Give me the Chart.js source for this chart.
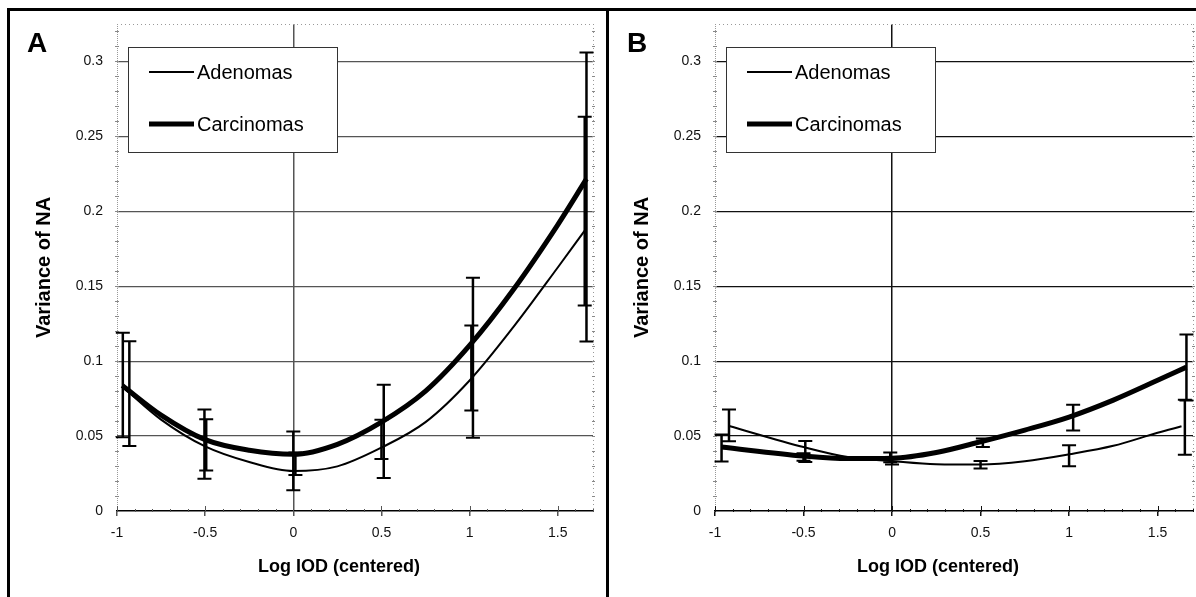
<!DOCTYPE html>
<html>
<head>
<meta charset="utf-8">
<script src="https://cdn.jsdelivr.net/npm/chart.js@4.4.1/dist/chart.umd.min.js"></script>
<style>
    body { margin: 0; background: #fff; width: 1196px; height: 597px; overflow: hidden; position: relative; }
    .panel { position: absolute; top: 0; height: 597px; }
    #wrapA { left: 0; width: 600px; }
    #wrapB { left: 600px; width: 596px; }
    .rule { position: absolute; background: #000; }
</style>
</head>
<body>
<div class="panel" id="wrapA"><canvas id="chartA" width="600" height="597"></canvas></div>
<div class="panel" id="wrapB"><canvas id="chartB" width="596" height="597"></canvas></div>
<div class="rule" style="left:7px;top:8px;width:1189px;height:3px"></div>
<div class="rule" style="left:7px;top:8px;width:3px;height:589px"></div>
<div class="rule" style="left:606px;top:8px;width:3px;height:589px"></div>

<script>
// axis ticks
const xTicks = [-1, -0.5, 0, 0.5, 1, 1.5];
const yTicks = [0, 0.05, 0.1, 0.15, 0.2, 0.25, 0.3];
const seriesNames = ['Adenomas', 'Carcinomas'];
const xTitle = 'Log IOD (centered)';
const yTitle = 'Variance of NA';

// Panel A - fitted curves
const aAdenX = [-0.96, -0.75, -0.5, -0.25, 0, 0.25, 0.5, 0.75, 1, 1.25, 1.5, 1.653];
const aAdenY = [0.082, 0.061, 0.0431, 0.0327, 0.0267, 0.0298, 0.0423, 0.0593, 0.0871, 0.123, 0.1625, 0.1871];
const aCarcX = [-0.97, -0.75, -0.5, -0.25, 0, 0.25, 0.5, 0.75, 1, 1.25, 1.5, 1.663];
const aCarcY = [0.0838, 0.064, 0.0476, 0.0405, 0.0378, 0.0445, 0.0593, 0.080, 0.1105, 0.148, 0.191, 0.2216];

// Panel A - error bars (low / high)
const aBar1X = [-0.967, -0.504, 0.0, 0.513, 1.019, 1.663];
const aBar1Lo = [0.0493, 0.0216, 0.0138, 0.022, 0.0489, 0.1131];
const aBar1Hi = [0.1189, 0.0678, 0.0531, 0.0843, 0.1556, 0.306];
const aBar2X = [-0.93, -0.494, 0.012, 0.5, 1.01, 1.653];
const aBar2Lo = [0.0433, 0.0271, 0.024, 0.0347, 0.0671, 0.1371];
const aBar2Hi = [0.1133, 0.0613, 0.039, 0.0609, 0.1238, 0.2631];

// Panel B - fitted curves
const bAdenX = [-0.92, -0.5, -0.25, 0, 0.25, 0.5, 0.75, 1.0, 1.25, 1.5, 1.635];
const bAdenY = [0.0567, 0.0427, 0.036, 0.0333, 0.0312, 0.031, 0.0332, 0.0378, 0.0435, 0.0522, 0.0565];
const bCarcX = [-0.965, -0.5, -0.25, 0, 0.25, 0.5, 0.75, 1.0, 1.25, 1.5, 1.663];
const bCarcY = [0.0427, 0.0367, 0.035, 0.0352, 0.039, 0.0462, 0.054, 0.0627, 0.074, 0.0872, 0.096];

// Panel B - error bars
const bBar1X = [-0.921, -0.49, 0.0, 0.5, 1.0, 1.654];
const bBar1Lo = [0.0465, 0.0327, 0.031, 0.0283, 0.0298, 0.0376];
const bBar1Hi = [0.0678, 0.0467, 0.036, 0.0333, 0.0438, 0.0743];
const bBar2X = [-0.963, -0.5, -0.01, 0.513, 1.023, 1.663];
const bBar2Lo = [0.0331, 0.0335, 0.0326, 0.0427, 0.0538, 0.0738];
const bBar2Hi = [0.0511, 0.0385, 0.039, 0.0483, 0.0709, 0.1178];

const FONT = 'Arial, "Liberation Sans", Helvetica, sans-serif';
Chart.defaults.font.family = FONT;

function toPoints(xs, ys) {
    return xs.map((x, i) => ({ x: x, y: ys[i] }));
}

// draws frame, minor ticks, error bars, legend, x title and panel letter
function makeDecor(letter, bars, gridCol) {
    return {
        id: 'decor' + letter,
        beforeDatasetsDraw(chart) {
            const ctx = chart.ctx;
            const ca = chart.chartArea;
            const xs = chart.scales.x, ys = chart.scales.y;
            ctx.save();
            // dotted plot frame (top, right, left axis)
            ctx.strokeStyle = '#999';
            ctx.lineWidth = 1;
            ctx.setLineDash([1, 3]);
            ctx.beginPath();
            ctx.moveTo(ca.left, ca.top + 0.5);
            ctx.lineTo(ca.right, ca.top + 0.5);
            ctx.moveTo(ca.right + 0.5, ca.top);
            ctx.lineTo(ca.right + 0.5, ca.bottom);
            ctx.stroke();
            ctx.setLineDash([1, 1]);
            ctx.beginPath();
            ctx.moveTo(ca.left + 0.5, ca.top);
            ctx.lineTo(ca.left + 0.5, ca.bottom);
            ctx.stroke();
            ctx.setLineDash([]);
            // minor ticks on y axis
            ctx.strokeStyle = '#888';
            ctx.beginPath();
            for (let k = 1; k <= 32; k++) {
                const py = Math.round(ys.getPixelForValue(k / 100)) + 0.5;
                ctx.moveTo(ca.left - 2, py);
                ctx.lineTo(ca.left + 2, py);
                ctx.moveTo(ca.right - 1, py);
                ctx.lineTo(ca.right + 2, py);
            }
            ctx.stroke();
            // minor + major ticks on x axis
            ctx.strokeStyle = gridCol;
            ctx.beginPath();
            for (let k = -10; k <= 17; k++) {
                const px = Math.round(xs.getPixelForValue(k / 10)) + 0.5;
                ctx.moveTo(px, ca.bottom - 2);
                ctx.lineTo(px, ca.bottom + 1);
            }
            xTicks.forEach(v => {
                const px = Math.round(xs.getPixelForValue(v)) + 0.5;
                ctx.moveTo(px, ca.bottom - 5);
                ctx.lineTo(px, ca.bottom);
            });
            ctx.stroke();
            ctx.restore();
        },
        afterDatasetsDraw(chart) {
            const ctx = chart.ctx;
            const ca = chart.chartArea;
            const xs = chart.scales.x, ys = chart.scales.y;
            ctx.save();
            // error bars
            ctx.strokeStyle = '#000';
            bars.forEach(set => {
                set.x.forEach((xv, i) => {
                    const px = xs.getPixelForValue(xv);
                    const pLo = ys.getPixelForValue(set.lo[i]);
                    const pHi = ys.getPixelForValue(set.hi[i]);
                    ctx.lineWidth = 2.5;
                    ctx.beginPath();
                    ctx.moveTo(px, pLo);
                    ctx.lineTo(px, pHi);
                    ctx.stroke();
                    ctx.lineWidth = 2;
                    ctx.beginPath();
                    ctx.moveTo(px - 7, pLo);
                    ctx.lineTo(px + 7, pLo);
                    ctx.moveTo(px - 7, pHi);
                    ctx.lineTo(px + 7, pHi);
                    ctx.stroke();
                });
            });

            // legend box
            const bx = ca.left + 11, by = ca.top + 23, bw = 209, bh = 105;
            ctx.fillStyle = '#fff';
            ctx.fillRect(bx, by, bw, bh);
            ctx.strokeStyle = '#333';
            ctx.lineWidth = 1;
            ctx.strokeRect(bx + 0.5, by + 0.5, bw, bh);
            ctx.font = '20px ' + FONT;
            ctx.textBaseline = 'middle';
            ctx.textAlign = 'left';
            ctx.fillStyle = '#000';
            chart.data.datasets.forEach((ds, i) => {
                const ly = by + 25 + i * 52;
                ctx.strokeStyle = '#000';
                ctx.lineWidth = ds.borderWidth;
                ctx.beginPath();
                ctx.moveTo(bx + 21, ly);
                ctx.lineTo(bx + 66, ly);
                ctx.stroke();
                ctx.fillText(ds.label, bx + 69, ly + 1);
            });

            // x axis title (sits a little left of the plot centre)
            ctx.font = 'bold 18px ' + FONT;
            ctx.textAlign = 'center';
            ctx.textBaseline = 'middle';
            ctx.fillText(xTitle, (ca.left + ca.right) / 2 - 16, 567);

            // panel letter
            ctx.font = 'bold 28px ' + FONT;
            ctx.textAlign = 'left';
            ctx.textBaseline = 'top';
            ctx.fillText(letter, 27, 30);
            ctx.restore();
        }
    };
}

function makeChart(canvasId, letter, curves, bars, yAxisW, padRight, yTitlePad, gridCol) {
    const ctx = document.getElementById(canvasId).getContext('2d');
    return new Chart(ctx, {
        type: 'scatter',
        data: {
            datasets: curves.map((c, i) => ({
                label: seriesNames[i],
                data: toPoints(c.x, c.y),
                showLine: true,
                borderColor: '#000',
                borderWidth: i === 0 ? 2 : 5,
                pointRadius: 0,
                cubicInterpolationMode: 'monotone',
                fill: false
            }))
        },
        options: {
            responsive: false,
            animation: false,
            layout: { padding: { left: 0, right: padRight, top: 24, bottom: 0 } },
            plugins: {
                legend: { display: false },
                tooltip: { enabled: false }
            },
            scales: {
                x: {
                    type: 'linear',
                    min: -1,
                    max: 1.7,
                    afterBuildTicks: s => { s.ticks = xTicks.map(v => ({ value: v })); },
                    afterFit: s => { s.height = 86; },
                    grid: {
                        color: c => (c.tick && c.tick.value === 0) ? gridCol : 'rgba(0,0,0,0)',
                        lineWidth: 1.5,
                        drawTicks: true,
                        tickLength: 5,
                        tickColor: gridCol
                    },
                    border: { display: true, color: '#000', width: 1.5 },
                    ticks: {
                        autoSkip: false,
                        maxRotation: 0,
                        padding: 9,
                        color: '#111',
                        font: { size: 14 },
                        callback: v => String(v)
                    },
                    title: { display: false }
                },
                y: {
                    min: 0,
                    max: 0.325,
                    afterBuildTicks: s => { s.ticks = yTicks.map(v => ({ value: v })); },
                    afterFit: s => { s.width = yAxisW; },
                    grid: {
                        color: c => (c.tick && c.tick.value === 0) ? 'rgba(0,0,0,0)' : gridCol,
                        lineWidth: 1.2,
                        drawTicks: false
                    },
                    border: { display: false },
                    ticks: {
                        autoSkip: false,
                        padding: 14,
                        color: '#111',
                        font: { size: 14 },
                        callback: v => String(v)
                    },
                    title: {
                        display: true,
                        text: yTitle,
                        color: '#000',
                        font: { size: 20, weight: 'bold' },
                        padding: { top: yTitlePad, bottom: 0 }
                    }
                }
            }
        },
        plugins: [makeDecor(letter, bars, gridCol)]
    });
}

makeChart('chartA', 'A',
    [{ x: aAdenX, y: aAdenY }, { x: aCarcX, y: aCarcY }],
    [{ x: aBar1X, lo: aBar1Lo, hi: aBar1Hi }, { x: aBar2X, lo: aBar2Lo, hi: aBar2Hi }],
    117, 7, 32, '#555');

makeChart('chartB', 'B',
    [{ x: bAdenX, y: bAdenY }, { x: bCarcX, y: bCarcY }],
    [{ x: bBar1X, lo: bBar1Lo, hi: bBar1Hi }, { x: bBar2X, lo: bBar2Lo, hi: bBar2Hi }],
    115, 3, 30, '#111');
</script>
</body>
</html>
